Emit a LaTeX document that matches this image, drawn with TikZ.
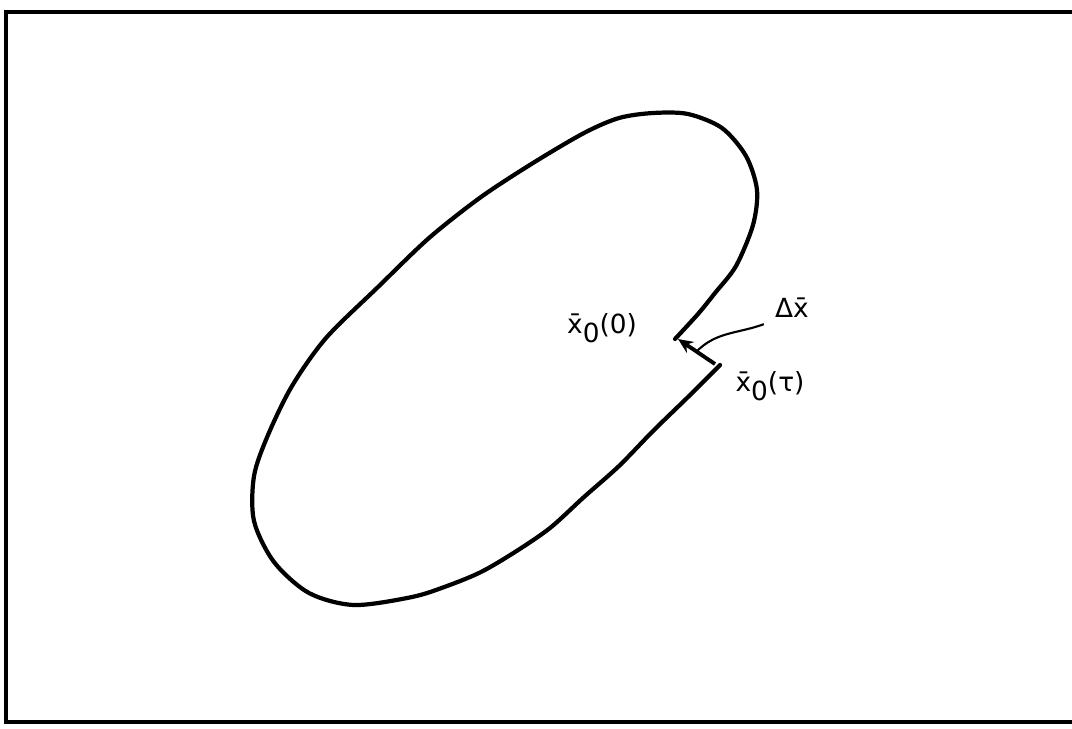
\documentclass[tikz,border=0pt]{standalone}
\usepackage{fontspec}
\newfontfamily\lblfont{DejaVu Sans}
\usetikzlibrary{arrows.meta,positioning,calc}
\tikzset{
  >={Stealth[length=3mm,width=2.6mm]},
  frame/.style={line width=2pt,line cap=rect},
  orbit/.style={line width=2.4pt,line join=round,line cap=round},
  flow/.style={->,line width=2.2pt},
  lead/.style={line width=1.2pt},
  tag/.style={font=\lblfont\fontsize{15}{18}\selectfont,inner sep=0pt},
}
\newcommand{\xnought}[1]{x̄\raisebox{-0.6ex}{0}(#1)}

\begin{document}
\begin{tikzpicture}[x=0.02cm,y=-0.02cm]
    \useasboundingbox (0,0) rectangle (1072,728);
    \draw[frame] (1090,12) -- (6,12) -- (6,722) -- (1090,722);
    % trajectory, not quite closed
    \draw[orbit] plot[smooth,tension=0.5] coordinates {(675,339) (698,314) (715,293) (736,266) (753,225)
      (757,190) (746,156) (722,128) (688,114) (653,113) (619,118) (584,133) (533,163) (481,197)
      (429,238) (378,287) (326,338) (292,386) (268,435) (254,476) (254,521) (274,562) (309,593)
      (354,605) (412,597) (447,586) (481,572) (515,552) (550,528) (584,497) (619,466) (653,431)
      (688,397) (720,365)};
    \coordinate (start) at (678,339);
    \coordinate (end) at (715,364);
    \draw[flow] (end) -- (start);
    \node[tag] (x0) at (602,328) {\xnought{0}};
    \node[tag] (xt) at (770,386) {\xnought{τ}};
    \node[tag] (dx) at (792,308) {Δx̄};
    \draw[lead] ([shift={(-11,6)}]dx.south west) to[out=200,in=45] ($(start)!0.5!(end)$);
  \end{tikzpicture}
\end{document}
